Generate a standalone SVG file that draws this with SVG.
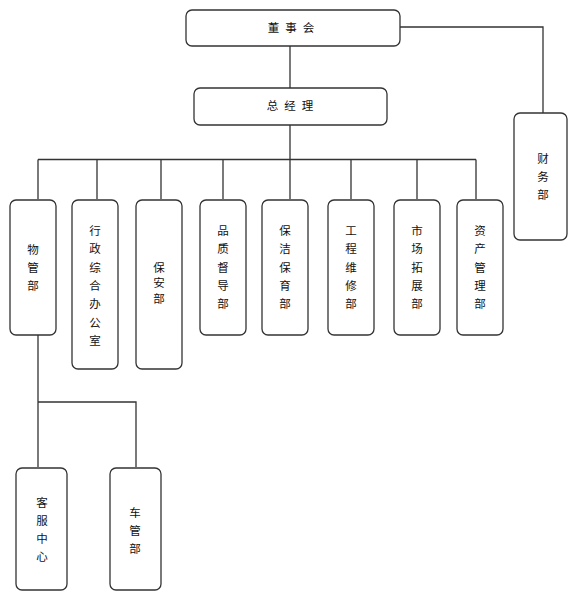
<svg xmlns="http://www.w3.org/2000/svg" width="578" height="600" viewBox="0 0 578 600">
<style>
.box{fill:#fff;stroke:#333;stroke-width:1.3}
.ln{fill:none;stroke:#333;stroke-width:1.3}
text{font-family:"Noto Sans CJK SC","Noto Sans",sans-serif;font-size:11.5px;fill:#111;text-anchor:middle;dominant-baseline:central}
</style>
<rect width="578" height="600" fill="#fff"/>
<g id="connectors">
<path class="ln" d="M290,46V88M290,125V199M38,159.5H476M38,159.5V199M97,159.5V199M161,159.5V199M223,159.5V199M351,159.5V199M417,159.5V199M476,159.5V199"/>
<path class="ln" d="M400,27H543V113"/>
<path class="ln" d="M38,335V467M38,402H136V467"/>
</g>
<g id="dongshihui"><rect class="box" x="186" y="10" width="214" height="36" rx="6"/><text x="294" y="27" letter-spacing="6">董事会</text></g>
<g id="zongjingli"><rect class="box" x="194" y="88" width="193" height="37" rx="6"/><text x="293" y="105" letter-spacing="6">总经理</text></g>
<g id="caiwubu"><rect class="box" x="514" y="113" width="53" height="127" rx="6"/><text x="543"><tspan x="543" y="158">财</tspan><tspan x="543" y="176">务</tspan><tspan x="543" y="194">部</tspan></text></g>
<g id="wuguanbu"><rect class="box" x="10" y="200" width="46" height="135" rx="6"/><text><tspan x="33" y="249">物</tspan><tspan x="33" y="267">管</tspan><tspan x="33" y="285">部</tspan></text></g>
<g id="xingzheng"><rect class="box" x="72" y="200" width="46" height="169" rx="6"/><text><tspan x="95" y="230">行</tspan><tspan x="95" y="248">政</tspan><tspan x="95" y="267">综</tspan><tspan x="95" y="285">合</tspan><tspan x="95" y="303">办</tspan><tspan x="95" y="322">公</tspan><tspan x="95" y="340">室</tspan></text></g>
<g id="baoanbu"><rect class="box" x="136" y="200" width="46" height="169" rx="6"/><text><tspan x="159" y="267">保</tspan><tspan x="159" y="282">安</tspan><tspan x="159" y="298">部</tspan></text></g>
<g id="pinzhi"><rect class="box" x="200" y="200" width="46" height="135" rx="6"/><text><tspan x="223" y="230">品</tspan><tspan x="223" y="248">质</tspan><tspan x="223" y="267">督</tspan><tspan x="223" y="285">导</tspan><tspan x="223" y="303">部</tspan></text></g>
<g id="baojie"><rect class="box" x="262" y="200" width="46" height="135" rx="6"/><text><tspan x="285" y="230">保</tspan><tspan x="285" y="248">洁</tspan><tspan x="285" y="267">保</tspan><tspan x="285" y="285">育</tspan><tspan x="285" y="303">部</tspan></text></g>
<g id="gongcheng"><rect class="box" x="328" y="200" width="46" height="135" rx="6"/><text><tspan x="351" y="230">工</tspan><tspan x="351" y="248">程</tspan><tspan x="351" y="267">维</tspan><tspan x="351" y="285">修</tspan><tspan x="351" y="303">部</tspan></text></g>
<g id="shichang"><rect class="box" x="394" y="200" width="46" height="135" rx="6"/><text><tspan x="417" y="230">市</tspan><tspan x="417" y="248">场</tspan><tspan x="417" y="267">拓</tspan><tspan x="417" y="285">展</tspan><tspan x="417" y="303">部</tspan></text></g>
<g id="zichan"><rect class="box" x="457" y="200" width="46" height="135" rx="6"/><text><tspan x="480" y="230">资</tspan><tspan x="480" y="248">产</tspan><tspan x="480" y="267">管</tspan><tspan x="480" y="285">理</tspan><tspan x="480" y="303">部</tspan></text></g>
<g id="kefu"><rect class="box" x="16" y="468" width="51" height="122" rx="6"/><text><tspan x="42" y="502">客</tspan><tspan x="42" y="520">服</tspan><tspan x="42" y="538">中</tspan><tspan x="42" y="556">心</tspan></text></g>
<g id="cheguan"><rect class="box" x="110" y="468" width="51" height="122" rx="6"/><text><tspan x="135" y="512">车</tspan><tspan x="135" y="530">管</tspan><tspan x="135" y="548">部</tspan></text></g>
</svg>
